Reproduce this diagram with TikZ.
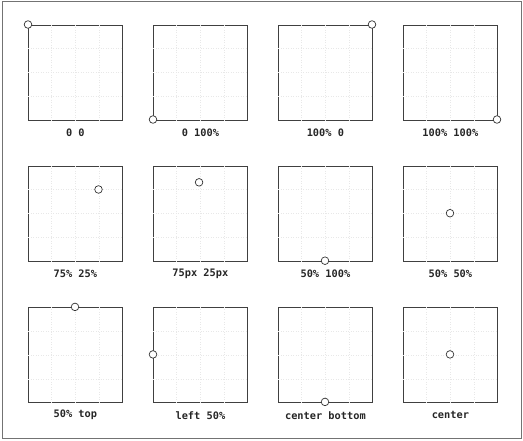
\documentclass[tikz,border=0pt]{standalone}
\usepackage{fontspec}
\setmonofont{DejaVu Sans Mono}
\usetikzlibrary{calc}
\begin{document}
\begin{tikzpicture}[x=1pt,y=-1pt,
  frame/.style={draw=black!75, line width=0.8pt, inner sep=0pt, minimum width=94pt, minimum height=95pt, anchor=north west},
  gridln/.style={draw=black!9, dotted, line width=0.5pt},
  dot/.style={circle, draw=black!80, fill=white, line width=0.7pt, minimum size=7.6pt, inner sep=0pt},
  lbl/.style={font=\ttfamily\bfseries\fontsize{10.3}{12}\selectfont, text=black!85, inner sep=0pt}]
\useasboundingbox (0,0) rectangle (523,440);
\draw[black!55, line width=0.9pt] (2,1.5) rectangle (521,438.5);
\foreach \i/\c/\r/\fx/\fy/\t in {
  1/0/0/0/0/{0 0},
  2/1/0/0/1/{0 100\%},
  3/2/0/1/0/{100\% 0},
  4/3/0/1/1/{100\% 100\%},
  5/0/1/0.75/0.25/{75\% 25\%},
  6/1/1/0.49/0.175/{75px 25px},
  7/2/1/0.5/1/{50\% 100\%},
  8/3/1/0.5/0.5/{50\% 50\%},
  9/0/2/0.5/0/{50\% top},
  10/1/2/0/0.5/{left 50\%},
  11/2/2/0.5/1/{center bottom},
  12/3/2/0.5/0.5/{center}} {
  \pgfmathsetmacro\L{28+125*\c}
  \pgfmathsetmacro\T{24.5+141.2*\r}
  \node[frame] (b\i) at (\L,\T) {};
  \foreach \g in {0.25,0.5,0.75} {
    \draw[gridln] ($(b\i.north west)!\g!(b\i.north east)$) -- ($(b\i.south west)!\g!(b\i.south east)$);
    \draw[gridln] ($(b\i.north west)!\g!(b\i.south west)$) -- ($(b\i.north east)!\g!(b\i.south east)$);
  }
  \node[dot] (c\i) at ($(b\i.north west)+(\fx*94,\fy*95)$) {};
  \node[lbl] (t\i) at ($(b\i.south)+(0,12.5)$) {\t};
}
\end{tikzpicture}
\end{document}
